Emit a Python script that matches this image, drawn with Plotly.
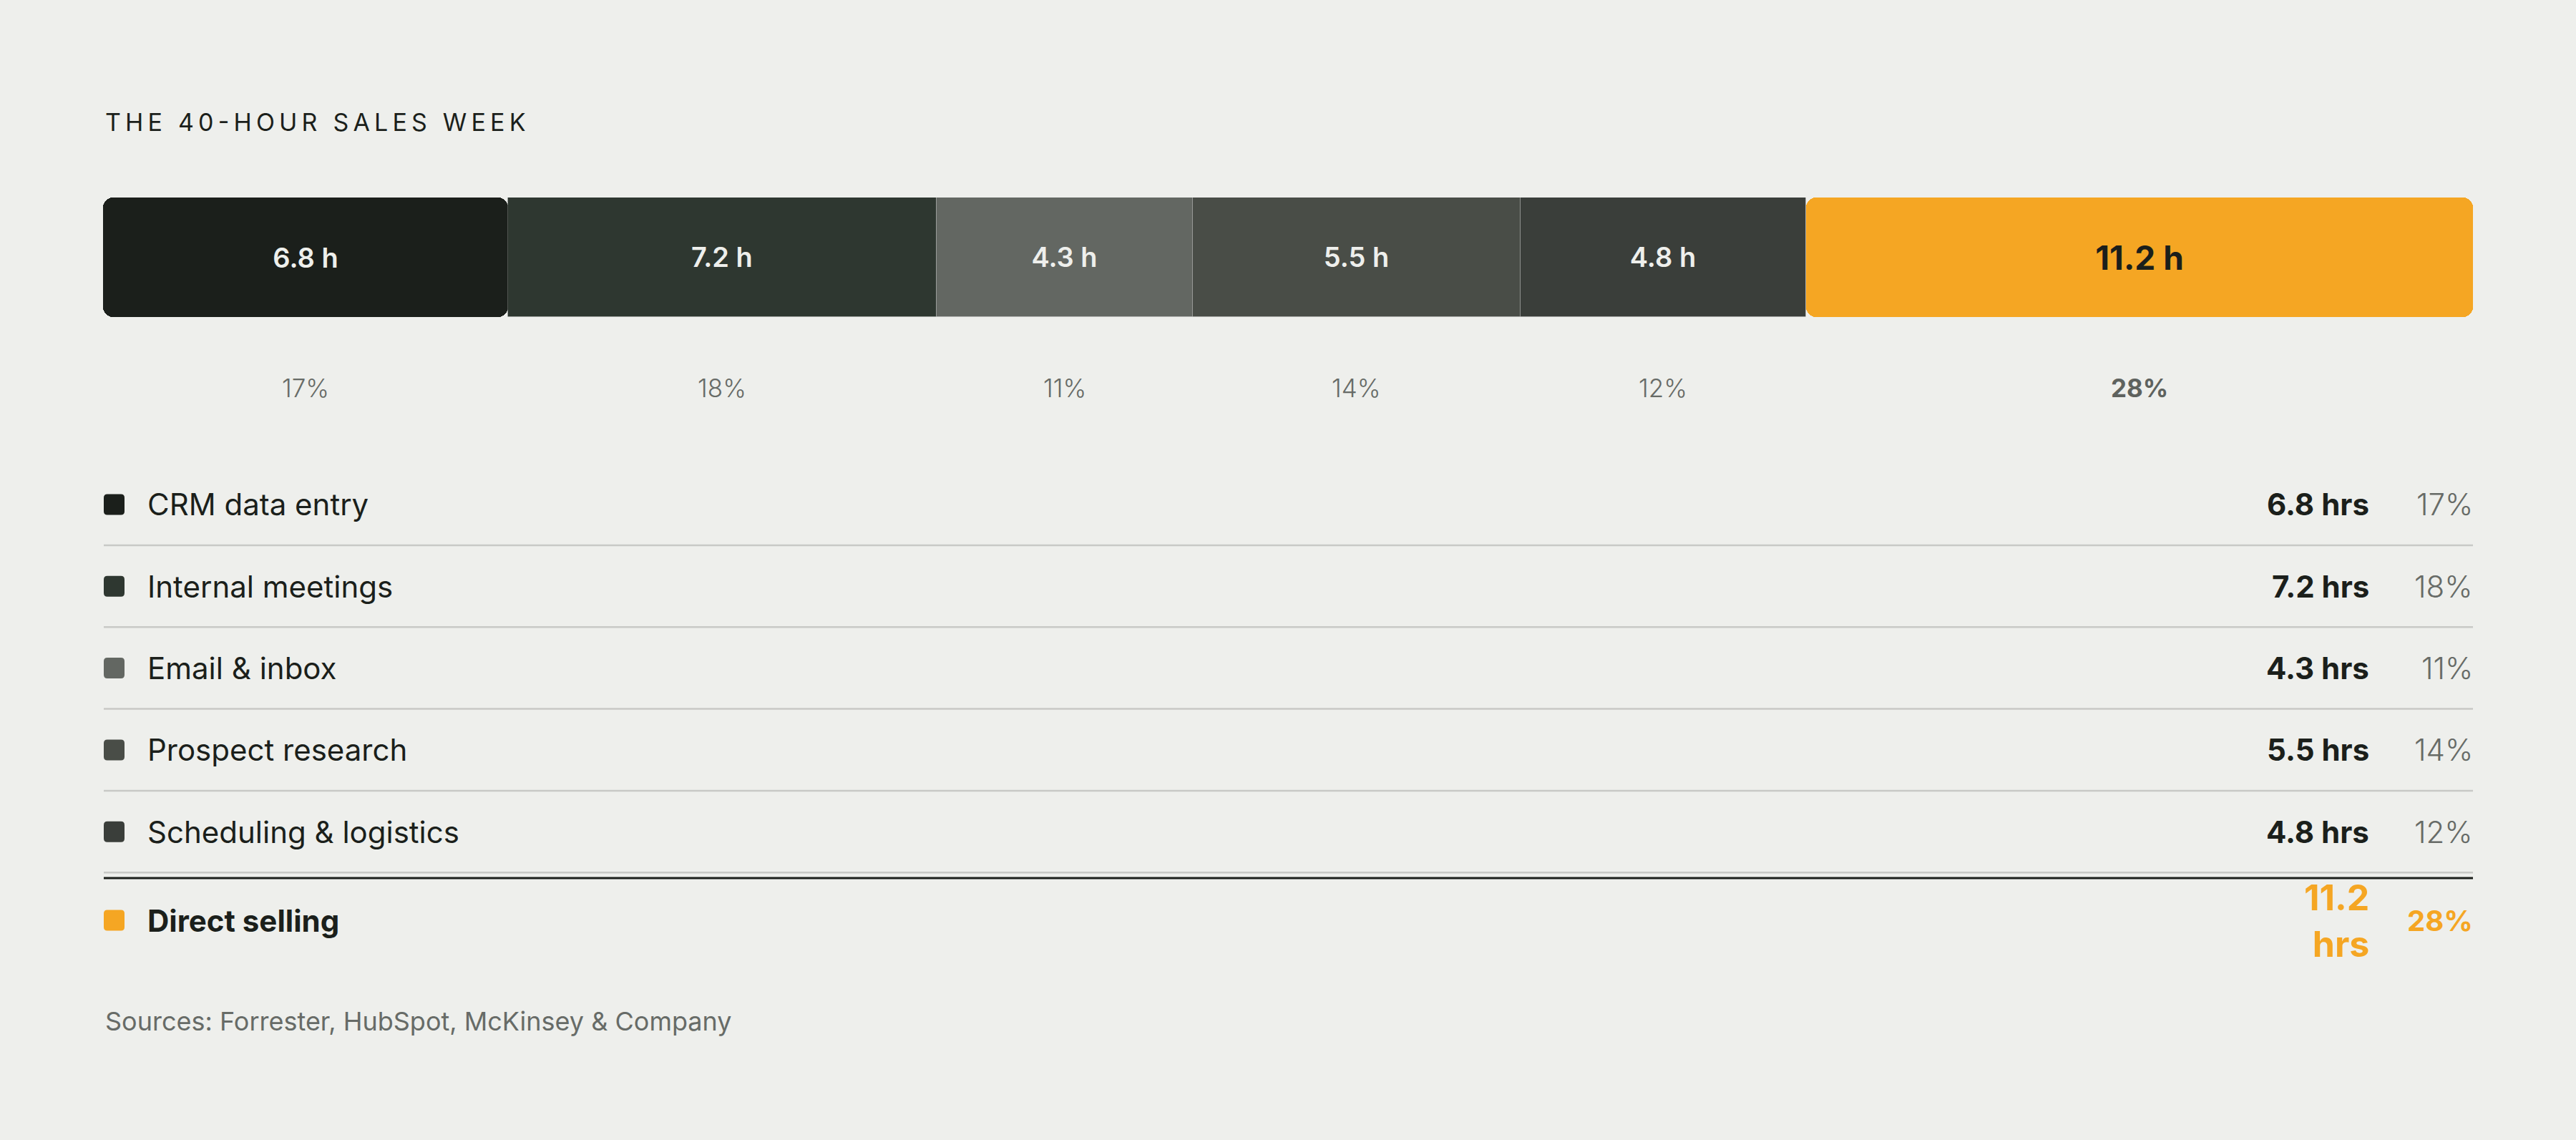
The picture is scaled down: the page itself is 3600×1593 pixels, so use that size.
import plotly.graph_objects as go

W, H = 3600, 1593

CATEGORIES = ["CRM data entry", "Internal meetings", "Email & inbox",
              "Prospect research", "Scheduling & logistics", "Direct selling"]
HOURS = [6.8, 7.2, 4.3, 5.5, 4.8, 11.2]
PCTS = [17, 18, 11, 14, 12, 28]
COLORS = ["#1b1f1b", "#2e3730", "#636762", "#494d47", "#3a3e3a", "#f5a623"]

TITLE = "THE 40-HOUR SALES WEEK"
SOURCE = "Sources: Forrester, HubSpot, McKinsey & Company"

BG = "#eeefec"
INK = "#1b1f1b"
GREY = "#676b67"
ORANGE = "#f5a623"
FONT = "Inter"


def px_x(p):
    return p / W


def px_y(p):
    return 1 - p / H


def rounded_rect(x0, y0, x1, y1, r):
    # pixel box -> paper path with rounded corners
    pts = [
        f"M {px_x(x0 + r)} {px_y(y0)}",
        f"L {px_x(x1 - r)} {px_y(y0)}",
        f"Q {px_x(x1)} {px_y(y0)} {px_x(x1)} {px_y(y0 + r)}",
        f"L {px_x(x1)} {px_y(y1 - r)}",
        f"Q {px_x(x1)} {px_y(y1)} {px_x(x1 - r)} {px_y(y1)}",
        f"L {px_x(x0 + r)} {px_y(y1)}",
        f"Q {px_x(x0)} {px_y(y1)} {px_x(x0)} {px_y(y1 - r)}",
        f"L {px_x(x0)} {px_y(y0 + r)}",
        f"Q {px_x(x0)} {px_y(y0)} {px_x(x0 + r)} {px_y(y0)}",
        "Z",
    ]
    return " ".join(pts)


bases = []
acc = 0
for h in HOURS:
    bases.append(acc)
    acc += h
total = acc

fig = go.Figure()

last = len(HOURS) - 1
for i, (h, b, c) in enumerate(zip(HOURS, bases, COLORS)):
    if i == 0:
        # drawn from its right edge back to zero so the left end gets rounded
        xv, bv, rad, lw = -h, b + h, 14, 0
    elif i == last:
        xv, bv, rad, lw = h, b, 14, 0
    else:
        xv, bv, rad, lw = h, b, 0, 1
    big = i == last
    fig.add_trace(go.Bar(
        x=[xv], y=[0], base=[bv], orientation="h", width=1,
        marker=dict(color=c, cornerradius=rad,
                    line=dict(color="rgba(238,239,236,0.22)", width=lw)),
        text=[f"{h} h"], textposition="inside", insidetextanchor="middle",
        textangle=0, constraintext="none",
        textfont=dict(family=FONT, size=46 if big else 38,
                      color=INK if big else "#eeefec",
                      weight=700 if big else 600),
        hoverinfo="skip", showlegend=False,
    ))

annotations = []

annotations.append(dict(
    text="\u2009".join(TITLE), x=px_x(145), y=px_y(170), xref="paper", yref="paper",
    xanchor="left", yanchor="middle", showarrow=False,
    font=dict(family=FONT, size=34, color=INK, weight=400),
))

# percentage row under the bar
for i, (h, b, p) in enumerate(zip(HOURS, bases, PCTS)):
    big = i == last
    annotations.append(dict(
        text=f"{p}%", x=b + h / 2, y=px_y(542), xref="x", yref="paper",
        xanchor="center", yanchor="middle", showarrow=False,
        font=dict(family=FONT, size=35, color="#5e625e" if big else GREY,
                  weight=700 if big else 300),
    ))

shapes = []
row_y = [705 + i * 114.3 for i in range(last)] + [1286]
for i, (name, h, p, c) in enumerate(zip(CATEGORIES, HOURS, PCTS, COLORS)):
    y = row_y[i]
    big = i == last
    shapes.append(dict(type="path", xref="paper", yref="paper",
                       path=rounded_rect(145, y - 14.5, 174, y + 14.5, 5),
                       fillcolor=c, line=dict(width=0)))
    annotations.append(dict(
        text=name, x=px_x(204), y=px_y(y), xref="paper", yref="paper",
        xanchor="left", yanchor="middle", showarrow=False,
        font=dict(family=FONT, size=42, color=INK, weight=700 if big else 400),
    ))
    annotations.append(dict(
        text=f"{h}<br>hrs" if big else f"{h} hrs",
        x=px_x(3313), y=px_y(y), xref="paper", yref="paper",
        xanchor="right", yanchor="middle", align="right", showarrow=False,
        font=dict(family=FONT, size=50 if big else 42,
                  color=ORANGE if big else INK, weight=700),
    ))
    annotations.append(dict(
        text=f"{p}%", x=px_x(3458), y=px_y(y), xref="paper", yref="paper",
        xanchor="right", yanchor="middle", showarrow=False,
        font=dict(family=FONT, size=42 if not big else 40,
                  color=ORANGE if big else GREY, weight=700 if big else 300),
    ))
    if i < last:
        sep = y + 57
        shapes.append(dict(type="line", xref="paper", yref="paper",
                           x0=px_x(145), x1=px_x(3456), y0=px_y(sep), y1=px_y(sep),
                           line=dict(color="#c8c9c6", width=2.5)))

shapes.append(dict(type="line", xref="paper", yref="paper",
                   x0=px_x(145), x1=px_x(3456), y0=px_y(1227), y1=px_y(1227),
                   line=dict(color=INK, width=3)))

annotations.append(dict(
    text=SOURCE, x=px_x(145), y=px_y(1427), xref="paper", yref="paper",
    xanchor="left", yanchor="middle", showarrow=False,
    font=dict(family=FONT, size=36, color=GREY, weight=400),
))

fig.update_layout(
    width=W, height=H,
    paper_bgcolor=BG, plot_bgcolor=BG,
    margin=dict(l=0, r=0, t=0, b=0),
    barmode="overlay",
    bargap=0,
    xaxis=dict(domain=[px_x(144), px_x(3456)], range=[0, total],
               visible=False, fixedrange=True),
    yaxis=dict(domain=[px_y(443), px_y(276)], range=[-0.5, 0.5],
               visible=False, fixedrange=True),
    annotations=annotations,
    shapes=shapes,
    showlegend=False,
)

fig.write_html(
    "out.html",
    config={"displayModeBar": False},
    post_script="document.body.style.margin='0';document.body.style.overflow='hidden';",
)
